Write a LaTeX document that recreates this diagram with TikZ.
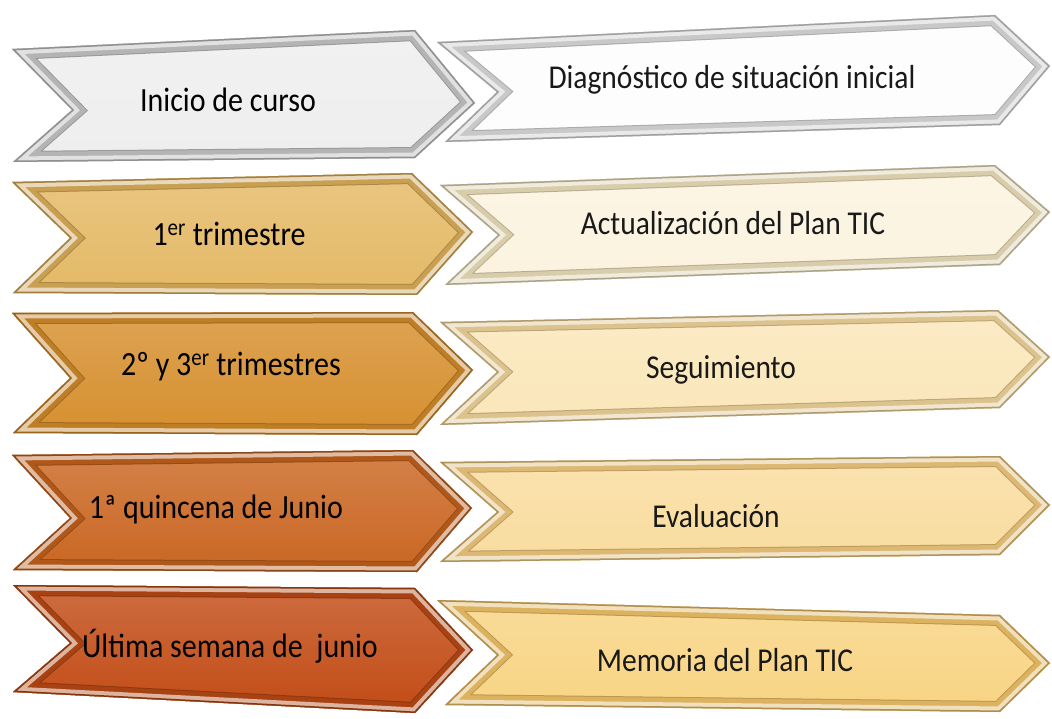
\documentclass[tikz,border=0pt]{standalone}
\usepackage{fontspec}
\setmainfont{Carlito}
\definecolor{fA}{HTML}{EEEEEE}\definecolor{eA}{HTML}{B4B4B4}
\definecolor{fB}{HTML}{E4B966}\definecolor{eB}{HTML}{C9A052}
\definecolor{fC}{HTML}{D68F2E}\definecolor{eC}{HTML}{BE7E26}
\definecolor{fD}{HTML}{CA6622}\definecolor{eD}{HTML}{B0581A}
\definecolor{fE}{HTML}{C24C16}\definecolor{eE}{HTML}{A84212}
\definecolor{gA}{HTML}{FDFDFD}\definecolor{hA}{HTML}{C8C8C8}
\definecolor{gB}{HTML}{FBF3DF}\definecolor{hB}{HTML}{D8CCAA}
\definecolor{gC}{HTML}{FAE6B9}\definecolor{hC}{HTML}{DCC28C}
\definecolor{gD}{HTML}{F9DC9E}\definecolor{hD}{HTML}{DCB872}
\definecolor{gE}{HTML}{F8D483}\definecolor{hE}{HTML}{DCB25E}
% #1..#6 corners (TL, TR, tip, BR, BL, notch), #7 face, #8 edge
\newcommand{\mychevpath}[6]{#1--#2--#3--#4--#5--#6--cycle}
\newcommand{\mychev}[8]{%
  \begin{scope}
    \clip \mychevpath{#1}{#2}{#3}{#4}{#5}{#6};
    \shade[top color=#7!82!white, bottom color=#7] \mychevpath{#1}{#2}{#3}{#4}{#5}{#6};
    \draw[line width=22pt, line join=miter, #8!85!black] \mychevpath{#1}{#2}{#3}{#4}{#5}{#6};
    \draw[line width=20pt, line join=miter, #8] \mychevpath{#1}{#2}{#3}{#4}{#5}{#6};
    \draw[line width=11pt, line join=miter, #8!40!white] \mychevpath{#1}{#2}{#3}{#4}{#5}{#6};
    \draw[line width=3pt, line join=miter, #8!80!black] \mychevpath{#1}{#2}{#3}{#4}{#5}{#6};
  \end{scope}}
\newcommand{\mywhiteedge}[6]{\draw[white, line width=4pt, line join=miter] \mychevpath{#1}{#2}{#3}{#4}{#5}{#6};}
\newcommand{\tall}[1]{\scalebox{1}[1.13]{#1}}
\tikzset{
  lefttext/.style={font=\fontsize{30}{35}\selectfont, text=black, inner sep=0pt},
  righttext/.style={font=\fontsize{29.5}{34}\selectfont, text=black!90, inner sep=0pt}
}
\begin{document}
\begin{tikzpicture}[x=1pt,y=-1pt]
\useasboundingbox[fill=white] (0,0) rectangle (1052,719);
% right chevrons
\mychev{(437,42)}{(995,15)}{(1050,66)}{(1000,125)}{(445,142)}{(497,92)}{gA}{hA}
\mychev{(440,185)}{(995,165)}{(1050,212)}{(1000,265)}{(445,285)}{(498,235)}{gB}{hB}
\mychev{(440,322)}{(998,310)}{(1050,357)}{(1000,408)}{(440,425)}{(497,372)}{gC}{hC}
\mychev{(440,462)}{(1000,456)}{(1050,505)}{(1000,555)}{(440,562)}{(497,512)}{gD}{hD}
\mychev{(437,600)}{(1000,615)}{(1050,663)}{(1000,712)}{(445,705)}{(497,655)}{gE}{hE}
% left chevrons
\mywhiteedge{(12,49)}{(415,30)}{(475,103)}{(415,158)}{(13,162)}{(72,110)}
\mychev{(12,49)}{(415,30)}{(475,103)}{(415,158)}{(13,162)}{(72,110)}{fA}{eA}
\mywhiteedge{(12,182)}{(412,173)}{(473,232)}{(417,295)}{(13,293)}{(70,238)}
\mychev{(12,182)}{(412,173)}{(473,232)}{(417,295)}{(13,293)}{(70,238)}{fB}{eB}
\mywhiteedge{(12,313)}{(413,312)}{(473,370)}{(417,435)}{(13,433)}{(70,378)}
\mychev{(12,313)}{(413,312)}{(473,370)}{(417,435)}{(13,433)}{(70,378)}{fC}{eC}
\mywhiteedge{(12,455)}{(413,450)}{(472,508)}{(417,572)}{(13,570)}{(70,518)}
\mychev{(12,455)}{(413,450)}{(472,508)}{(417,572)}{(13,570)}{(70,518)}{fD}{eD}
\mywhiteedge{(13,585)}{(415,588)}{(473,650)}{(415,713)}{(13,692)}{(70,643)}
\mychev{(13,585)}{(415,588)}{(473,650)}{(415,713)}{(13,692)}{(70,643)}{fE}{eE}
% labels
\node[lefttext] (l1) at (228,100) {\tall{Inicio de curso}};
\node[lefttext] (l2) at (229,234) {\tall{1\textsuperscript{er} trimestre}};
\node[lefttext] (l3) at (231,367) {\tall{2º y 3\textsuperscript{er} trimestres}};
\node[lefttext] (l4) at (216,509) {\tall{1ª quincena de Junio}};
\node[lefttext] (l5) at (230,646) {\tall{Última semana de\ \ junio}};
\node[righttext] (r1) at (732,80) {\tall{Diagnóstico de situación inicial}};
\node[righttext] (r2) at (733,223) {\tall{Actualización del Plan TIC}};
\node[righttext] (r3) at (721,370) {\tall{Seguimiento}};
\node[righttext] (r4) at (716,516) {\tall{Evaluación}};
\node[righttext] (r5) at (725,660) {\tall{Memoria del Plan TIC}};
\end{tikzpicture}
\end{document}
